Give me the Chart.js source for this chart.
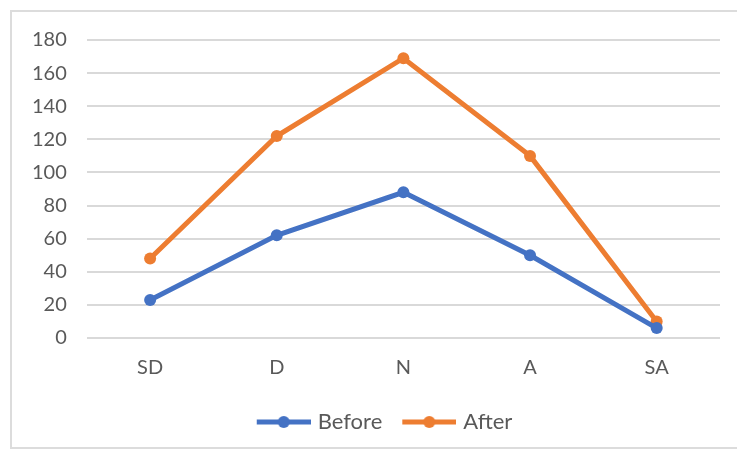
<!DOCTYPE html>
<html>
<head>
<meta charset="utf-8">
<script src="https://cdn.jsdelivr.net/npm/chart.js@4"></script>
<style>
  html, body { margin: 0; padding: 0; background: #ffffff; }
  #wrap { position: relative; width: 737px; height: 455px; overflow: hidden; }
  #frame {
    position: absolute; left: 10px; top: 10px; width: 740px; height: 439px;
    border: 2px solid #dcdcdc; box-sizing: border-box;
  }
  #c { position: absolute; left: 0; top: 0; }
</style>
</head>
<body>
<div id="wrap">
  <div id="frame"></div>
  <canvas id="c" width="737" height="455"></canvas>
</div>
<script>
// Survey responses on a five-point agreement scale
const categories = ['SD', 'D', 'N', 'A', 'SA'];
const beforeValues = [23, 62, 88, 50, 6];
const afterValues = [48, 122, 169, 110, 10];
const yTicks = [0, 20, 40, 60, 80, 100, 120, 140, 160, 180];

const BLUE = '#4472C4';
const ORANGE = '#ED7D31';
const TEXT = '#595959';
const FONT = 'Lato, "Open Sans", sans-serif';

// Legend marker: a short line with a dot in its middle (left margin adds item spacing)
const MARK_MARGIN = 11;
function lineMarker(color) {
  const lineLen = 54, h = 14, w = lineLen + MARK_MARGIN;
  const cv = document.createElement('canvas');
  cv.width = w; cv.height = h;
  const g = cv.getContext('2d');
  g.strokeStyle = color;
  g.lineWidth = 5;
  g.lineCap = 'butt';
  g.beginPath();
  g.moveTo(MARK_MARGIN, h / 2);
  g.lineTo(w, h / 2);
  g.stroke();
  g.fillStyle = color;
  g.beginPath();
  g.arc(MARK_MARGIN + lineLen / 2, h / 2, 6, 0, Math.PI * 2);
  g.fill();
  return cv;
}

// Nudge the legend block sideways after layout
const legendShift = {
  id: 'legendShift',
  afterLayout(chart) {
    if (chart.legend) {
      chart.legend.left += 15;
      chart.legend.right += 15;
    }
  }
};

new Chart(document.getElementById('c'), {
  type: 'line',
  data: {
    labels: categories,
    datasets: [
      {
        label: 'Before',
        data: beforeValues,
        borderColor: BLUE,
        backgroundColor: BLUE,
        borderWidth: 5,
        pointRadius: 6,
        pointHoverRadius: 6,
        pointBorderWidth: 0,
        pointStyle: 'circle',
        tension: 0
      },
      {
        label: 'After',
        data: afterValues,
        borderColor: ORANGE,
        backgroundColor: ORANGE,
        borderWidth: 5,
        pointRadius: 6,
        pointHoverRadius: 6,
        pointBorderWidth: 0,
        pointStyle: 'circle',
        tension: 0
      }
    ]
  },
  plugins: [legendShift],
  options: {
    responsive: false,
    animation: false,
    layout: { padding: { left: 12, right: 17, top: 40, bottom: 12 } },
    plugins: {
      tooltip: { enabled: false },
      legend: {
        position: 'bottom',
        labels: {
          usePointStyle: true,
          pointStyleWidth: 46 + MARK_MARGIN,
          color: TEXT,
          font: { family: FONT, size: 22 },
          padding: 13,
          generateLabels(chart) {
            return chart.data.datasets.map((ds, i) => ({
              text: ds.label,
              fontColor: TEXT,
              pointStyle: lineMarker(ds.borderColor),
              datasetIndex: i,
              hidden: false,
              lineWidth: 0
            }));
          }
        }
      }
    },
    scales: {
      x: {
        offset: true,
        grid: { display: false, drawTicks: false },
        border: { display: false },
        ticks: { color: TEXT, font: { family: FONT, size: 20 }, padding: 18 }
      },
      y: {
        min: 0,
        max: 180,
        afterBuildTicks(axis) { axis.ticks = yTicks.map(v => ({ value: v })); },
        grid: { color: '#d9d9d9', lineWidth: 2, drawTicks: false },
        border: { display: false },
        ticks: { color: TEXT, font: { family: FONT, size: 20 }, padding: 20 }
      }
    }
  }
});
</script>
</body>
</html>
